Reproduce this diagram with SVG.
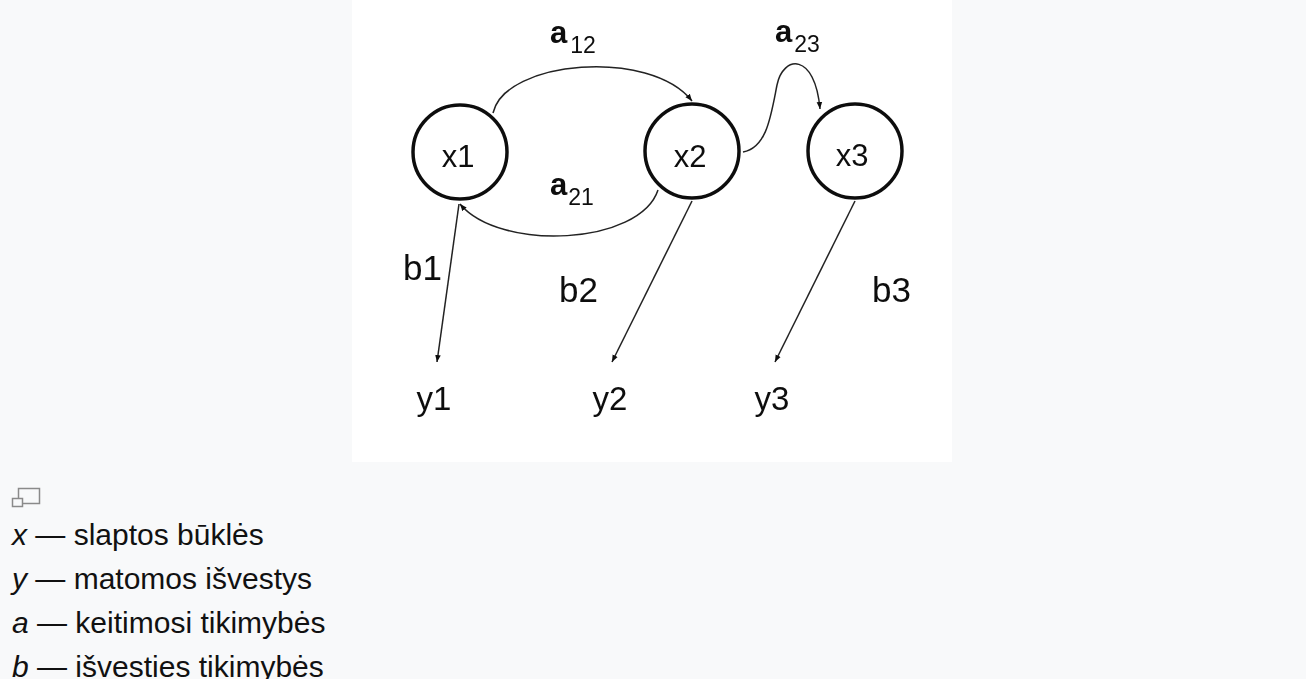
<svg xmlns="http://www.w3.org/2000/svg" width="1306" height="679" viewBox="0 0 1306 679">
  <style>
    .state { fill: #ffffff; stroke: #111111; stroke-width: 3.5; }
    .edge { fill: none; stroke: #222222; stroke-width: 1.5; }
    .lbl { font-family: "Liberation Sans", Arial, sans-serif; fill: #111111; }
    .node-txt { font-size: 31px; text-anchor: middle; }
    .out-txt { font-size: 33px; text-anchor: middle; }
    .b-txt { font-size: 35px; }
    .a-main { font-size: 31px; font-weight: bold; }
    .a-sub { font-size: 23px; }
    .legend { font-family: "Liberation Sans", Arial, sans-serif; font-size: 30px; fill: #111111; }
    .legend .v { font-style: italic; }
  </style>
  <defs>
    <marker id="arrow" markerUnits="userSpaceOnUse" markerWidth="8" markerHeight="7" refX="7" refY="3.5" orient="auto">
      <path d="M0,0.7 L7,3.5 L0,6.3 Z" fill="#111111"/>
    </marker>
    <filter id="soft" x="-5%" y="-5%" width="110%" height="110%">
      <feGaussianBlur stdDeviation="0.5"/>
    </filter>
  </defs>

  <!-- page background and figure panel -->
  <rect x="0" y="0" width="1306" height="679" fill="#f8f9fa"/>
  <rect x="352" y="0" width="600" height="462" fill="#ffffff"/>

  <g filter="url(#soft)">
    <!-- connectors -->
    <g id="connectors">
      <path id="e-a12" class="edge" d="M493,113 C505,60 650,48 692,101" marker-end="url(#arrow)"/>
      <path id="e-a21" class="edge" d="M658,190 C640,245 500,252 460,204" marker-end="url(#arrow)"/>
      <path id="e-a23" class="edge" d="M743,152 C767,148 771,115 777,85 C783,55 815,52 820,109" marker-end="url(#arrow)"/>
      <path id="e-b1" class="edge" d="M459,204 L437,362" marker-end="url(#arrow)"/>
      <path id="e-b2" class="edge" d="M692,201 L612,362" marker-end="url(#arrow)"/>
      <path id="e-b3" class="edge" d="M855,201 L775,362" marker-end="url(#arrow)"/>
    </g>

    <!-- edge labels -->
    <g id="edge-labels" class="lbl">
      <text x="550" y="43"><tspan class="a-main">a</tspan><tspan class="a-sub" dx="3" dy="10">12</tspan></text>
      <text x="550" y="195"><tspan class="a-main">a</tspan><tspan class="a-sub" dx="1" dy="10">21</tspan></text>
      <text x="775" y="42"><tspan class="a-main">a</tspan><tspan class="a-sub" dx="2" dy="10">23</tspan></text>
      <text class="b-txt" x="403" y="280">b1</text>
      <text class="b-txt" x="559" y="302">b2</text>
      <text class="b-txt" x="872" y="302">b3</text>
    </g>

    <!-- hidden states -->
    <g id="x1">
      <circle class="state" cx="460" cy="152" r="47"/>
      <text class="lbl node-txt" x="458" y="167">x1</text>
    </g>
    <g id="x2">
      <circle class="state" cx="692" cy="151" r="47"/>
      <text class="lbl node-txt" x="690" y="167">x2</text>
    </g>
    <g id="x3">
      <circle class="state" cx="855" cy="151" r="47"/>
      <text class="lbl node-txt" x="852" y="166">x3</text>
    </g>

    <!-- observed outputs -->
    <g id="y1"><text class="lbl out-txt" x="434" y="410">y1</text></g>
    <g id="y2"><text class="lbl out-txt" x="610" y="410">y2</text></g>
    <g id="y3"><text class="lbl out-txt" x="772" y="410">y3</text></g>
  </g>

  <!-- enlarge icon -->
  <g id="enlarge-icon" fill="#f8f9fa" stroke="#8a8a8a" stroke-width="1.5">
    <rect x="18.5" y="488.5" width="21" height="15"/>
    <rect x="12.5" y="498.5" width="10" height="8"/>
  </g>

  <!-- legend -->
  <g id="legend" class="legend">
    <text x="12" y="545"><tspan class="v">x</tspan> — slaptos būklės</text>
    <text x="12" y="589"><tspan class="v">y</tspan> — matomos išvestys</text>
    <text x="12" y="633"><tspan class="v">a</tspan> — keitimosi tikimybės</text>
    <text x="12" y="677"><tspan class="v">b</tspan> — išvesties tikimybės</text>
  </g>
</svg>
